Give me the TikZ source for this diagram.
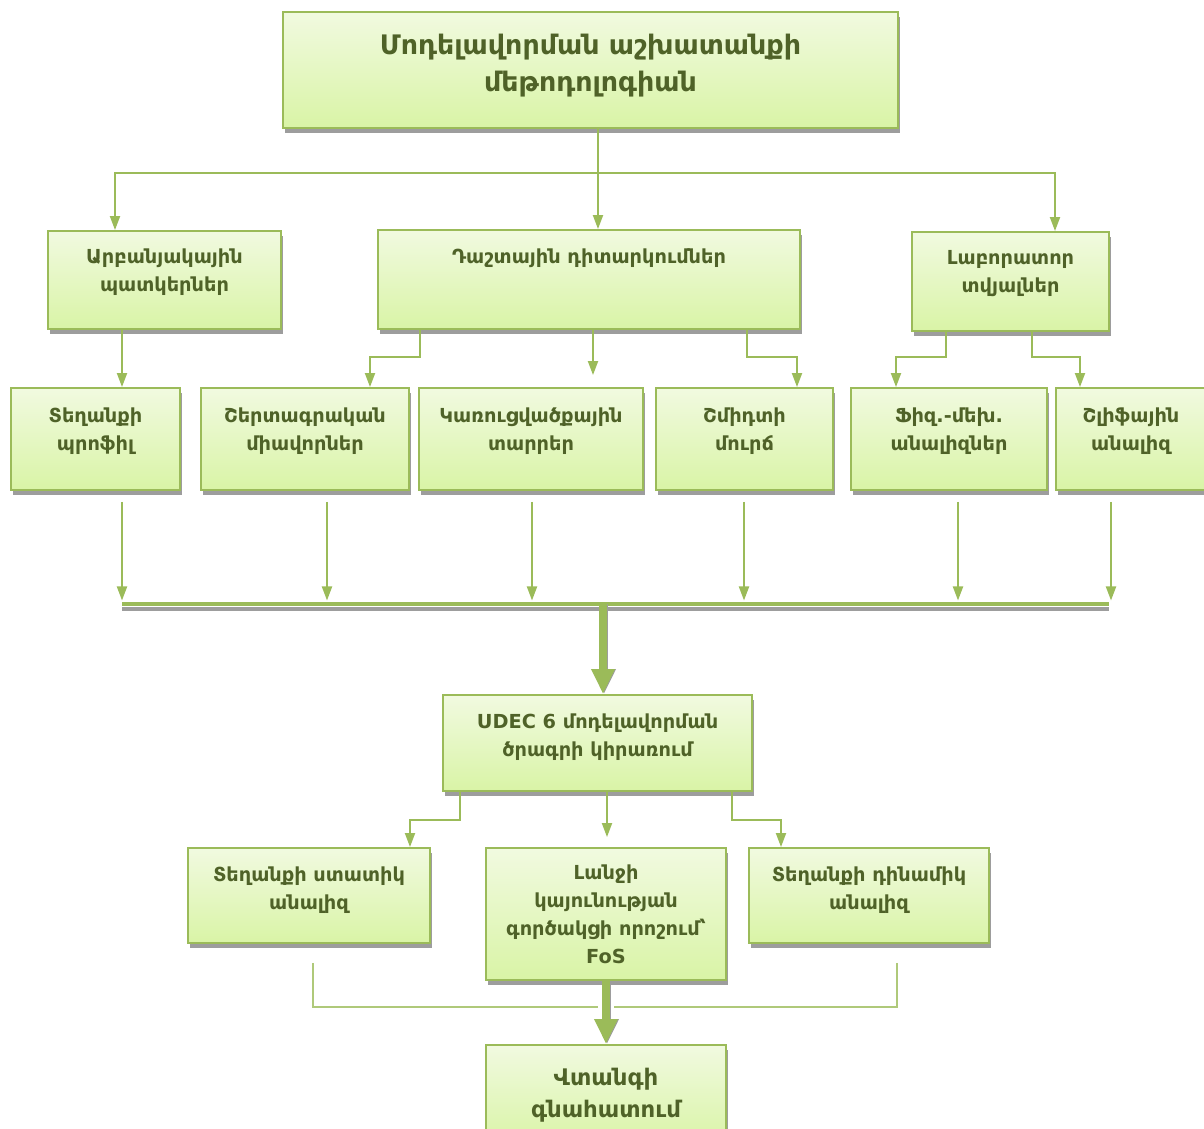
\documentclass[tikz,border=0pt]{standalone}
\usepackage{fontspec}
\setmainfont{DejaVu Sans}
\usetikzlibrary{arrows.meta,calc,shadows}
\definecolor{SLPgreen}{HTML}{9BBB59}
\definecolor{SLPtext}{HTML}{4F6228}
\definecolor{SLPtop}{HTML}{F1FAE0}
\definecolor{SLPbottom}{HTML}{D9F4A6}
\definecolor{SLPshade}{HTML}{9D9D9D}
\tikzset{
  stagebox/.style={draw=SLPgreen, line width=1.1pt, top color=SLPtop, bottom color=SLPbottom, align=center, text=SLPtext, inner sep=2pt, text depth=0.4cm, font=\bfseries\fontsize{11}{16}\selectfont, drop shadow={shadow xshift=1pt, shadow yshift=-2.6pt, fill=SLPshade, opacity=1}},
  titlebox/.style={stagebox, text depth=0.3cm, font=\bfseries\fontsize{15.3}{21}\selectfont},
  endbox/.style={stagebox, text depth=, font=\bfseries\fontsize{13}{18}\selectfont},
  conn/.style={draw=SLPgreen, line width=1.1pt, -{Triangle[length=2.8mm,width=2mm]}},
  link/.style={draw=SLPgreen!80, line width=0.9pt},
  bus/.style={draw=SLPgreen, line width=2.8pt},
  busshade/.style={draw=SLPshade, line width=2.2pt},
  fatarr/.style={draw=SLPgreen, line width=4.5pt, -{Triangle[length=5mm,width=4.4mm]}},
  fatshade/.style={draw=SLPshade, line width=4.5pt, -{Triangle[length=5mm,width=4.4mm]}}
}
\begin{document}
\begin{tikzpicture}[x=0.02cm, y=-0.02cm]
\useasboundingbox (0,0) rectangle (1204,1129);
\clip (0,0) rectangle (1204,1129);
% boxes
\node[titlebox, minimum width=12.3cm, minimum height=2.32cm] (top) at (590.5,70) {Մոդելավորման աշխատանքի\\մեթոդոլոգիան};
\node[stagebox, minimum width=4.66cm, minimum height=1.96cm] (arb) at (164.5,280) {Արբանյակային\\պատկերներ};
\node[stagebox, minimum width=8.44cm, minimum height=1.98cm, text depth=0.95cm] (dasht) at (589,279.5) {Դաշտային դիտարկումներ};
\node[stagebox, minimum width=3.94cm, minimum height=1.98cm] (lab) at (1010.5,281.5) {Լաբորատոր\\տվյալներ};
\node[stagebox, minimum width=3.38cm, minimum height=2.04cm] (prof) at (95.5,439) {Տեղանքի\\պրոֆիլ};
\node[stagebox, minimum width=4.16cm, minimum height=2.04cm] (shert) at (305,439) {Շերտագրական\\միավորներ};
\node[stagebox, minimum width=4.48cm, minimum height=2.04cm] (karuc) at (531,439) {Կառուցվածքային\\տարրեր};
\node[stagebox, minimum width=3.54cm, minimum height=2.04cm] (shmidt) at (744.5,439) {Շմիդտի\\մուրճ};
\node[stagebox, minimum width=3.92cm, minimum height=2.04cm] (fiz) at (949,439) {Ֆիզ.-մեխ.\\անալիզներ};
\node[stagebox, minimum width=3.0cm, minimum height=2.04cm] (shlif) at (1131,439) {Շլիֆային\\անալիզ};
\node[stagebox, minimum width=6.18cm, minimum height=1.92cm, text depth=0.3cm] (udec) at (597.5,743) {UDEC 6 մոդելավորման\\ծրագրի կիրառում};
\node[stagebox, minimum width=4.84cm, minimum height=1.9cm, text depth=0.3cm] (stat) at (309,895.5) {Տեղանքի ստատիկ\\անալիզ};
\node[stagebox, minimum width=4.8cm, minimum height=2.64cm, text depth=] (lanj) at (606,914) {Լանջի\\կայունության\\գործակցի որոշում՝\\FoS};
\node[stagebox, minimum width=4.8cm, minimum height=1.9cm, text depth=0.3cm] (dinam) at (869,895.5) {Տեղանքի դինամիկ\\անալիզ};
\node[endbox, minimum width=4.8cm, minimum height=2.0cm] (vtang) at (606,1095) {Վտանգի\\գնահատում};
% first split
\coordinate (hubA) at (598,173);
\draw[link, line width=1.1pt, draw=SLPgreen] (598,0 |- top.south) -- (hubA);
\draw[conn] (hubA) -| (115,0 |- arb.north);
\draw[conn] (hubA) -- (598,0 |- dasht.north);
\draw[conn] (hubA) -| (1055,0 |- lab.north);
% second level
\draw[conn] (122,0 |- arb.south) -- (122,0 |- prof.north);
\draw[conn] (420,0 |- dasht.south) |- (395,357) -| (370,0 |- shert.north);
\draw[conn, shorten >=0.24cm] (593,0 |- dasht.south) -- (593,0 |- karuc.north);
\draw[conn] (747,0 |- dasht.south) |- (770,357) -| (797,0 |- shmidt.north);
\draw[conn] (946,0 |- lab.south) |- (920,357) -| (896,0 |- fiz.north);
\draw[conn] (1032,0 |- lab.south) |- (1055,357) -| (1080,0 |- shlif.north);
% collector bar
\coordinate (busL) at (122,604);
\coordinate (busR) at (1109,604);
\foreach \x/\n in {122/prof, 327/shert, 532/karuc, 744/shmidt, 958/fiz, 1111/shlif}
  \draw[conn, shorten <=0.22cm, shorten >=2pt] (\x,0 |- \n.south) -- (\x,0 |- busL);
\draw[busshade] ($(busL)+(0,5)$) -- ($(busR)+(0,5)$);
\draw[bus] (busL) -- (busR);
\begin{scope}[yshift=-2.6pt, xshift=0.6pt]
  \draw[fatshade] (603,0 |- busL) -- (603,0 |- udec.north);
\end{scope}
\draw[fatarr] (603,0 |- busL) -- (603,0 |- udec.north);
% third level
\draw[conn] (460,0 |- udec.south) |- (435,820) -| (410,0 |- stat.north);
\draw[conn, shorten >=0.2cm] (607,0 |- udec.south) -- (607,0 |- lanj.north);
\draw[conn] (732,0 |- udec.south) |- (756,820) -| (781,0 |- dinam.north);
% merge to assessment
\coordinate (merge) at (606,1007);
\draw[link, shorten <=0.38cm] (313,0 |- stat.south) |- ($(merge)+(-8,0)$);
\draw[link, shorten <=0.38cm] (897,0 |- dinam.south) |- ($(merge)+(8,0)$);
\begin{scope}[yshift=-2.6pt, xshift=0.6pt]
  \draw[fatshade] (606,0 |- lanj.south) -- (606,0 |- vtang.north);
\end{scope}
\draw[fatarr] (606,0 |- lanj.south) -- (606,0 |- vtang.north);
\end{tikzpicture}
\end{document}
